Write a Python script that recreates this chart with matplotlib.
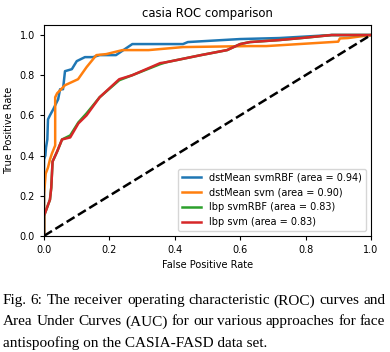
import numpy as np
import matplotlib
matplotlib.use("Agg")
import matplotlib.pyplot as plt

# ROC points
fpr_dst_rbf = [0.0, 0.0, 0.004, 0.006, 0.01, 0.012, 0.018, 0.028, 0.043, 0.049, 0.058, 0.064,
               0.085, 0.10, 0.125, 0.15, 0.17, 0.22, 0.27, 0.425, 0.44, 0.60, 0.72, 0.88, 1.0]
tpr_dst_rbf = [0.0, 0.38, 0.40, 0.44, 0.48, 0.58, 0.60, 0.63, 0.68, 0.73, 0.73, 0.82,
               0.83, 0.87, 0.89, 0.89, 0.90, 0.90, 0.955, 0.955, 0.965, 0.98, 0.985, 1.0, 1.0]

fpr_dst_svm = [0.0, 0.0, 0.005, 0.012, 0.018, 0.024, 0.034, 0.034, 0.04, 0.064, 0.104, 0.13,
               0.16, 0.19, 0.24, 0.32, 0.425, 0.63, 0.68, 0.90, 0.905, 0.93, 1.0]
tpr_dst_svm = [0.0, 0.21, 0.31, 0.34, 0.38, 0.41, 0.45, 0.69, 0.71, 0.75, 0.78, 0.84,
               0.90, 0.905, 0.925, 0.925, 0.94, 0.945, 0.945, 0.967, 0.983, 0.985, 1.0]

fpr_lbp_rbf = [0.0, 0.0, 0.009, 0.018, 0.022, 0.026, 0.04, 0.055, 0.08, 0.105, 0.13, 0.17,
               0.23, 0.27, 0.355, 0.375, 0.48, 0.56, 0.60, 0.63, 0.72, 0.80, 0.88, 1.0]
tpr_lbp_rbf = [0.0, 0.10, 0.14, 0.18, 0.24, 0.37, 0.42, 0.48, 0.50, 0.565, 0.61, 0.69,
               0.775, 0.80, 0.855, 0.865, 0.90, 0.925, 0.955, 0.965, 0.975, 0.987, 1.0, 1.0]

fpr_lbp_svm = [0.0, 0.0, 0.009, 0.018, 0.022, 0.026, 0.04, 0.055, 0.08, 0.105, 0.13, 0.17,
               0.23, 0.27, 0.355, 0.375, 0.48, 0.56, 0.60, 0.63, 0.72, 0.80, 0.88, 1.0]
tpr_lbp_svm = [0.0, 0.10, 0.14, 0.18, 0.24, 0.37, 0.42, 0.48, 0.49, 0.56, 0.60, 0.69,
               0.78, 0.80, 0.86, 0.865, 0.90, 0.925, 0.955, 0.965, 0.975, 0.987, 1.0, 1.0]

labels = ["dstMean svmRBF (area = 0.94)", "dstMean svm (area = 0.90)",
          "lbp svmRBF (area = 0.83)", "lbp svm (area = 0.83)"]
colors = ["#1f77b4", "#ff7f0e", "#2ca02c", "#d62728"]

caption = ["Fig. 6: The receiver operating characteristic (ROC) curves and",
           "Area Under Curves (AUC) for our various approaches for face",
           "antispoofing on the CASIA-FASD data set."]

fig = plt.figure(figsize=(3.9, 3.52), dpi=100)
ax = fig.add_axes([0.113, 0.33, 0.838, 0.599])

curves = [(fpr_dst_rbf, tpr_dst_rbf), (fpr_dst_svm, tpr_dst_svm),
          (fpr_lbp_rbf, tpr_lbp_rbf), (fpr_lbp_svm, tpr_lbp_svm)]
for (fpr, tpr), lab, c in zip(curves, labels, colors):
    ax.plot(fpr, tpr, color=c, lw=1.8, label=lab)
ax.plot([0, 1], [0, 1], color="black", lw=1.8, ls="--")

ax.set_xlim(0, 1.0)
ax.set_ylim(0, 1.05)
ax.set_title("casia ROC comparison", fontsize=8.4)
ax.set_xlabel("False Positive Rate", fontsize=7)
ax.set_ylabel("True Positive Rate", fontsize=7)
ax.tick_params(labelsize=7, length=3)
ax.legend(loc="lower right", fontsize=7)

# caption, first two lines justified like the paper
renderer = fig.canvas.get_renderer()
fw = fig.bbox.width
x0, x1 = 3 / fw, 385 / fw
for i, line in enumerate(caption):
    y = 0.145 - i * 0.0597
    kw = dict(family="Liberation Serif", fontsize=11, ha="left", va="center")
    if i == len(caption) - 1:
        fig.text(x0, y, line, **kw)
        continue
    words = line.split(" ")
    arts = [fig.text(x0, y, w, **kw) for w in words]
    widths = [a.get_window_extent(renderer).width / fw for a in arts]
    gap = (x1 - x0 - sum(widths)) / (len(words) - 1)
    x = x0
    for a, w in zip(arts, widths):
        a.set_x(x)
        x += w + gap

fig.savefig("out.png", dpi=100)
